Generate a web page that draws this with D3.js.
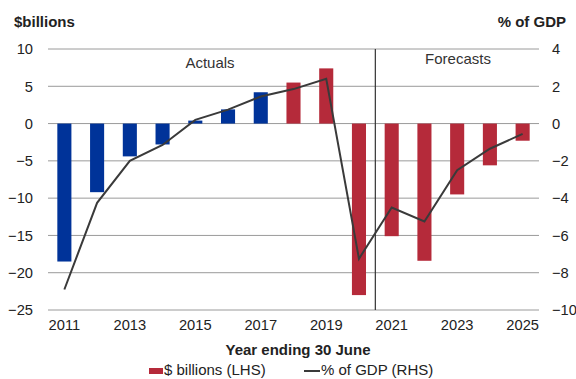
<!DOCTYPE html>
<html>
<head>
<meta charset="utf-8">
<script src="https://cdn.jsdelivr.net/npm/d3@7/dist/d3.min.js"></script>
<style>
  html, body { margin: 0; padding: 0; background: #fff; }
  svg { display: block; font-family: "Liberation Sans", Arial, sans-serif; }
</style>
</head>
<body>
<svg id="chart" width="576" height="379"></svg>
<script>
// Budget balance, year ending 30 June
const years = [2011, 2012, 2013, 2014, 2015, 2016, 2017, 2018, 2019, 2020, 2021, 2022, 2023, 2024, 2025];
const balanceBillions = [-18.5, -9.2, -4.4, -2.8, 0.4, 1.9, 4.2, 5.5, 7.4, -23.0, -15.1, -18.4, -9.5, -5.6, -2.3];
const balancePctGdp = [-8.9, -4.25, -2.0, -1.15, 0.2, 0.75, 1.45, 1.85, 2.4, -7.25, -4.5, -5.25, -2.5, -1.35, -0.55];
const leftTicks = [10, 5, 0, -5, -10, -15, -20, -25];
const rightTicks = [4, 2, 0, -2, -4, -6, -8, -10];
const yearTicks = [2011, 2013, 2015, 2017, 2019, 2021, 2023, 2025];
const lastBlueYear = 2017;   // earlier years drawn in blue
const firstForecast = 2021;

const svg = d3.select("#chart");
const plotLeft = 48, plotRight = 539, plotTop = 49, plotBottom = 310;

const x = d3.scaleBand().domain(years).range([plotLeft, plotRight])
  .paddingInner(0.57).paddingOuter(0.285);
const yL = d3.scaleLinear().domain([-25, 10]).range([plotBottom, plotTop]);
const yR = d3.scaleLinear().domain([-10, 4]).range([plotBottom, plotTop]);

const FONT = "Liberation Sans, Arial, sans-serif";

// gridlines
svg.append("g").selectAll("line").data(leftTicks).join("line")
  .attr("x1", plotLeft).attr("x2", plotRight)
  .attr("y1", d => yL(d)).attr("y2", d => yL(d))
  .attr("stroke", "#9a9a9a").attr("stroke-width", 1);

// left axis labels
const axL = svg.append("g").attr("transform", `translate(${plotLeft},0)`)
  .call(d3.axisLeft(yL).tickValues(leftTicks).tickSize(0).tickPadding(15).tickFormat(d3.format("d")));
axL.select(".domain").remove();
axL.selectAll("text").attr("font-size", 14.7).attr("fill", "#222").attr("font-family", FONT);

// right axis labels
const axR = svg.append("g").attr("transform", `translate(${plotRight},0)`)
  .call(d3.axisRight(yR).tickValues(rightTicks).tickSize(0).tickPadding(13).tickFormat(d3.format("d")));
axR.select(".domain").remove();
axR.selectAll("text").attr("font-size", 14.7).attr("fill", "#222").attr("font-family", FONT);

// x axis labels
const axX = svg.append("g").attr("transform", `translate(0,${plotBottom})`)
  .call(d3.axisBottom(x).tickValues(yearTicks).tickSize(0).tickPadding(10));
axX.select(".domain").remove();
axX.selectAll("text").attr("font-size", 14.7).attr("fill", "#222").attr("font-family", FONT);

// bars
svg.append("g").selectAll("rect").data(years).join("rect")
  .attr("x", d => x(d))
  .attr("width", x.bandwidth())
  .attr("y", (d, i) => yL(Math.max(0, balanceBillions[i])))
  .attr("height", (d, i) => Math.abs(yL(balanceBillions[i]) - yL(0)))
  .attr("fill", d => d <= lastBlueYear ? "#003399" : "#b52a3a");

// actuals / forecasts divider
const divX = (x(firstForecast - 1) + x.bandwidth() + x(firstForecast)) / 2;
svg.append("line")
  .attr("x1", divX).attr("x2", divX).attr("y1", plotTop).attr("y2", plotBottom)
  .attr("stroke", "#333").attr("stroke-width", 1.2);

// % of GDP line
const line = d3.line()
  .x((d, i) => x(years[i]) + x.bandwidth() / 2)
  .y(d => yR(d));
svg.append("path").datum(balancePctGdp)
  .attr("d", line).attr("fill", "none")
  .attr("stroke", "#3a3a3a").attr("stroke-width", 2);

// section labels
svg.append("text").attr("x", 210).attr("y", 68).attr("text-anchor", "middle")
  .attr("font-size", 15).attr("fill", "#333").text("Actuals");
svg.append("text").attr("x", 458).attr("y", 64).attr("text-anchor", "middle")
  .attr("font-size", 15).attr("fill", "#333").text("Forecasts");

// axis titles
svg.append("text").attr("x", 14).attr("y", 27).attr("font-size", 15)
  .attr("font-weight", "bold").attr("fill", "#222").text("$billions");
svg.append("text").attr("x", 566).attr("y", 27).attr("text-anchor", "end").attr("font-size", 15)
  .attr("font-weight", "bold").attr("fill", "#222").text("% of GDP");
svg.append("text").attr("x", 298).attr("y", 355).attr("text-anchor", "middle").attr("font-size", 15)
  .attr("font-weight", "bold").attr("fill", "#222").text("Year ending 30 June");

// legend
const lg = svg.append("g");
lg.append("rect").attr("x", 149).attr("y", 368).attr("width", 14).attr("height", 6).attr("fill", "#b52a3a");
lg.append("text").attr("x", 164).attr("y", 375).attr("font-size", 15).attr("fill", "#222").text("$ billions (LHS)");
lg.append("line").attr("x1", 304).attr("x2", 320).attr("y1", 371).attr("y2", 371)
  .attr("stroke", "#3a3a3a").attr("stroke-width", 2);
lg.append("text").attr("x", 321).attr("y", 375).attr("font-size", 15).attr("fill", "#222").text("% of GDP (RHS)");
</script>
</body>
</html>
